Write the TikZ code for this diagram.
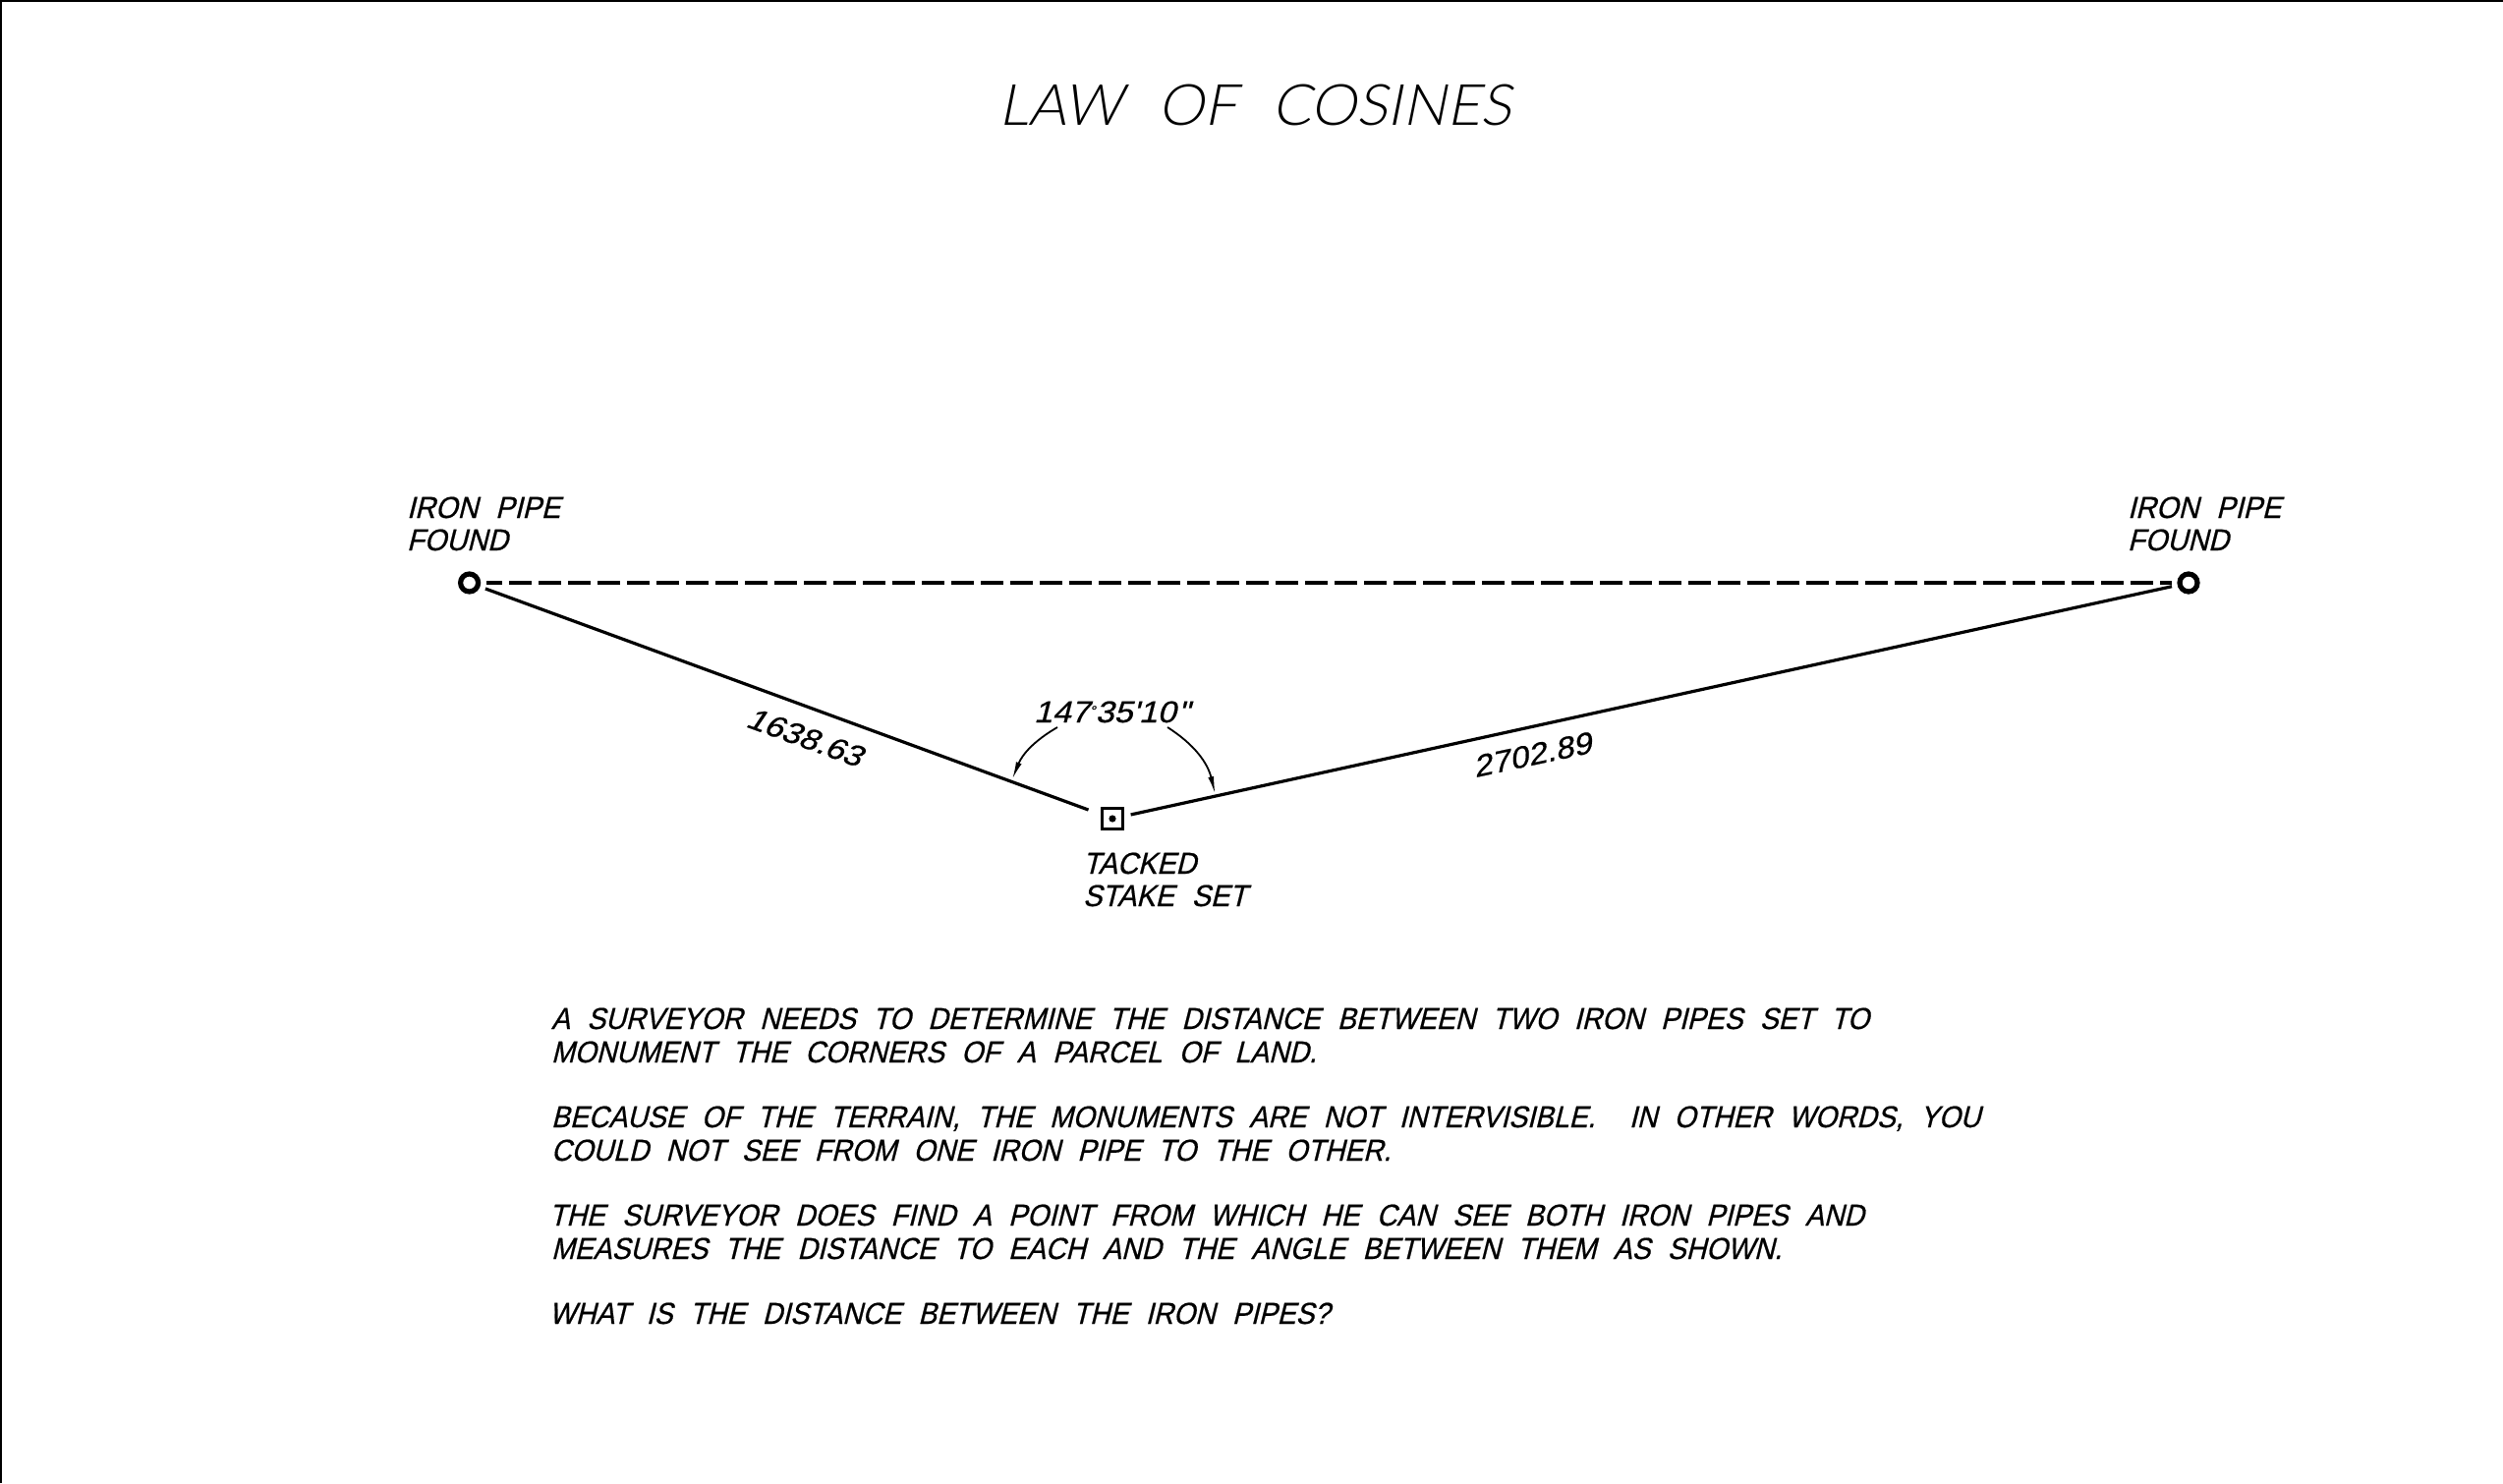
\documentclass[tikz,border=0pt]{standalone}
\usepackage{fontspec}
\usetikzlibrary{arrows.meta}
\newfontfamily\bodyfont[FakeSlant=0.25,FakeStretch=0.92,WordSpace=2.2,FakeBold=0.6]{Liberation Sans}
\newfontfamily\labelfont[FakeSlant=0.25,FakeStretch=0.94,WordSpace=2.2,FakeBold=0.6]{Liberation Sans}
\newfontfamily\numfont[FakeSlant=0.25,FakeStretch=1.1,FakeBold=0.6]{Liberation Sans}
\newfontfamily\titlefont[FakeSlant=0.2,FakeStretch=1.02,WordSpace=2.2]{Lato Light}
\tikzset{
  x=0.5pt,y=-0.5pt,
  txt/.style={anchor=base west,inner sep=0pt,outer sep=0pt,font=\bodyfont\fontsize{15.4}{17}\selectfont},
  lbl/.style={anchor=base west,inner sep=0pt,outer sep=0pt,font=\labelfont\fontsize{15.4}{17}\selectfont},
  num/.style={anchor=center,inner sep=0pt,outer sep=0pt,font=\numfont\fontsize{15.4}{17}\selectfont},
  pipe/.style={circle,draw,line width=2.6pt,minimum size=9pt,inner sep=0pt,outer sep=4.2pt},
  stakebox/.style={rectangle,draw,line width=1.4pt,minimum size=10.5pt,inner sep=0pt,outer sep=7pt},
  leg/.style={line width=1.6pt},
  angarrow/.style={line width=0.9pt,-{Latex[length=9pt,width=3pt]}}
}
\begin{document}
\begin{tikzpicture}
\useasboundingbox (0,0) rectangle (2547,1509);
\fill[white] (0,0) rectangle (2547,1509);
\draw[line width=1.1pt] (1,1509) -- (1,1) -- (2547,1);
\node[anchor=base west,inner sep=0pt,font=\titlefont\fontsize{29}{32}\selectfont] (title) at (1016,127) {LAW OF COSINES};
\node[pipe] (pipeL) at (477.6,593) {};
\node[pipe] (pipeR) at (2227,593) {};
\node[stakebox] (stake) at (1132,833) {};
\fill (1132,833) circle (1.8pt);
\draw[leg,dash pattern=on 11.7pt off 3.3pt,dash phase=3.5pt] (pipeL) -- (pipeR);
\draw[leg] (pipeL) -- (stake);
\draw[leg,shorten <=-3pt] (stake) -- (pipeR);
\node[lbl] (ipL1) at (414,527) {IRON PIPE};
\node[lbl] (ipL2) at (414,560) {FOUND};
\node[lbl] (ipR1) at (2165,527) {IRON PIPE};
\node[lbl] (ipR2) at (2165,560) {FOUND};
\node[lbl] (ts1) at (1102,889) {TACKED};
\node[lbl] (ts2) at (1102,922) {STAKE SET};
\node[num,anchor=base west] (ang) at (1052,735) {147\raisebox{3.5pt}{\fontsize{7}{7}\selectfont °}35'10\kern1pt"};
\coordinate (a1) at (1076,740);
\coordinate (a2) at (1030,793);
\coordinate (b1) at (1188,740);
\coordinate (b2) at (1236.5,808);
\draw[angarrow] (a1) to[bend right=19] (a2);
\draw[angarrow] (b1) to[bend left=22] (b2);
\node[num,rotate=-20] (d1) at (819,750) {1638.63};
\node[num,rotate=12] (d2) at (1559,768) {2702.89};
\node[txt] (t1) at (561,1047) {A SURVEYOR NEEDS TO DETERMINE THE DISTANCE BETWEEN TWO IRON PIPES SET TO};
\node[txt] (t2) at (561,1081) {MONUMENT THE CORNERS OF A PARCEL OF LAND.};
\node[txt] (t3) at (561,1147) {BECAUSE OF THE TERRAIN, THE MONUMENTS ARE NOT INTERVISIBLE.\ \ IN OTHER WORDS, YOU};
\node[txt] (t4) at (561,1181) {COULD NOT SEE FROM ONE IRON PIPE TO THE OTHER.};
\node[txt] (t5) at (559,1247) {THE SURVEYOR DOES FIND A POINT FROM WHICH HE CAN SEE BOTH IRON PIPES AND};
\node[txt] (t6) at (561,1281) {MEASURES THE DISTANCE TO EACH AND THE ANGLE BETWEEN THEM AS SHOWN.};
\node[txt] (t7) at (559,1347) {WHAT IS THE DISTANCE BETWEEN THE IRON PIPES?};
\end{tikzpicture}
\end{document}
